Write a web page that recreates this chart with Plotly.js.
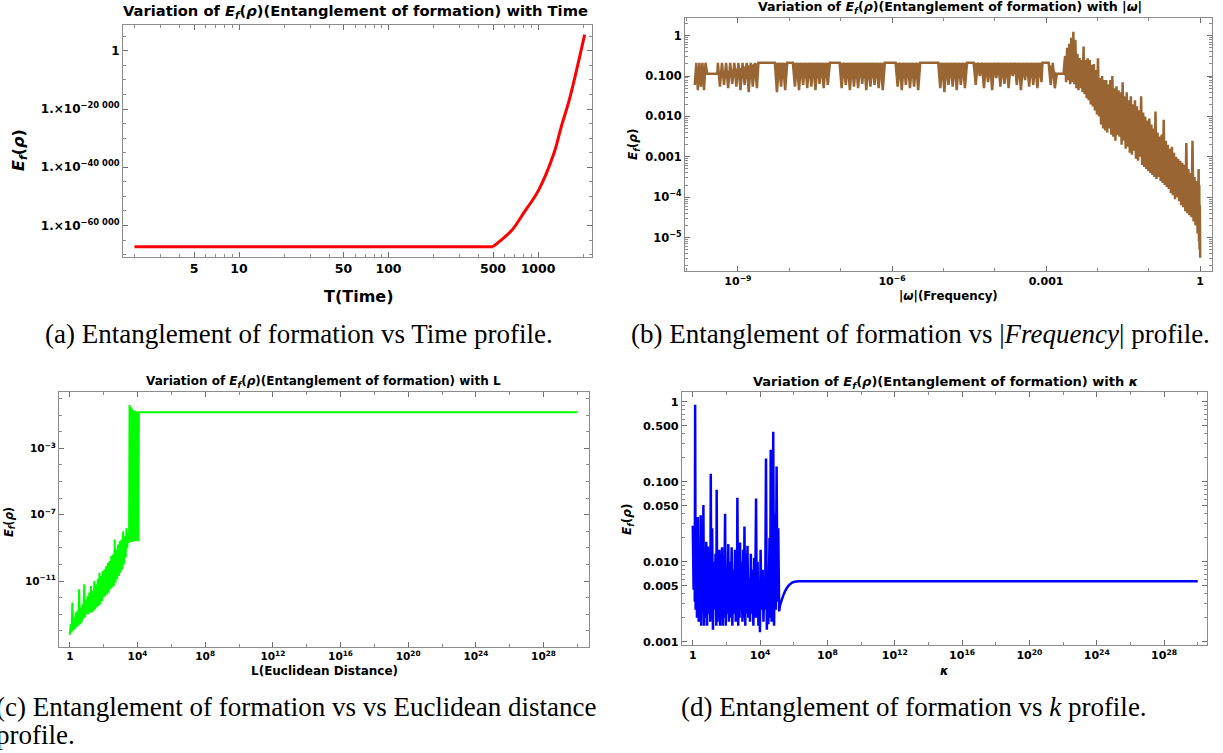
<!DOCTYPE html>
<html><head><meta charset="utf-8">
<script src="https://cdn.plot.ly/plotly-3.0.1.min.js"></script>
<style>html,body{margin:0;padding:0;background:#fff;}#chart{width:1223px;height:753px;}</style>
</head><body><div id="chart"></div>
<script>
// ---------- (a) E_f vs time : y values are log10(E_f) ----------
const aTime = [2, 500, 665, 795, 1007, 1276, 1429, 1618, 2051];
const aLogEf = [-67241, -67241, -61724, -55966, -47931, -35276, -26103, -16897, 5517];
const aXTicks = [5, 10, 50, 100, 500, 1000];
const aYTicks = [0, -20000, -40000, -60000];
const aYTickText = ['1', '1.×10<sup>−20 000</sup>', '1.×10<sup>−40 000</sup>', '1.×10<sup>−60 000</sup>'];

// ---------- (b) E_f vs |omega| : log10 values ----------
const bFlatLogW = [-9.84,-9.81,-9.78,-9.75,-9.72,-9.69,-9.66,-9.63,-9.60,-9.40,
 -9.39,-9.35,-9.31,-9.27,-9.23,-9.19,-9.15,-9.11,-9.07,-9.03,-8.99,-8.95,-8.91,-8.87,-8.83,-8.79,-8.75,-8.71,-8.67,-8.63,-8.60,
 -8.28,-8.24,-8.20,-8.16,-8.12,-8.08,-8.04,
 -7.93,-7.89,-7.85,-7.81,-7.77,-7.73,-7.69,-7.65,-7.61,-7.57,-7.53,-7.49,-7.45,-7.41,-7.37,-7.33,-7.29,-7.25,-7.21,
 -7.02,-6.98,-6.94,-6.90,-6.86,-6.82,-6.78,-6.74,-6.70,-6.66,-6.62,-6.58,-6.54,-6.50,-6.46,-6.42,-6.38,-6.34,-6.30,-6.26,-6.22,-6.18,-6.14,
 -5.93,-5.89,-5.85,-5.81,-5.77,-5.73,-5.69,-5.65,-5.61,-5.57,-5.53,-5.49,-5.45,
 -5.10,-5.06,-5.02,-4.98,-4.94,-4.90,-4.86,-4.82,-4.78,-4.74,-4.70,-4.66,-4.62,-4.58,-4.54,
 -4.41,-4.37,-4.33,-4.29,-4.25,-4.21,-4.17,-4.13,-4.09,-4.05,-4.01,-3.97,-3.93,-3.89,-3.85,-3.81,-3.77,-3.73,-3.69,-3.65,-3.61,-3.57,-3.53,-3.49,-3.45,-3.41,-3.37,-3.33,-3.29,-3.25,-3.21,-3.17,-3.13,-3.09,-3.07,
 -2.95,-2.91,-2.87,-2.83,-2.79,-2.66];
const bFlatLogEf = [-1.22,-0.67,-1.35,-0.67,-1.26,-0.67,-1.35,-0.67,-0.94,-0.94,
 -0.67,-1.26,-0.67,-1.22,-0.67,-1.3,-0.67,-1.19,-0.67,-1.26,-0.67,-1.35,-0.67,-1.22,-0.67,-1.4,-0.67,-1.26,-0.67,-1.3,-0.67,
 -0.67,-1.4,-0.67,-1.26,-0.67,-1.35,-0.67,
 -0.67,-1.26,-0.67,-1.35,-0.67,-1.22,-0.67,-1.3,-0.67,-1.26,-0.67,-1.35,-0.67,-1.19,-0.67,-1.3,-0.67,-1.22,-0.67,
 -0.67,-1.3,-0.67,-1.22,-0.67,-1.35,-0.67,-1.26,-0.67,-1.3,-0.67,-1.19,-0.67,-1.35,-0.67,-1.26,-0.67,-1.22,-0.67,-1.3,-0.67,-1.35,-0.67,
 -0.67,-1.26,-0.67,-1.35,-0.67,-1.22,-0.67,-1.3,-0.67,-1.26,-0.67,-1.35,-0.67,
 -0.67,-1.3,-0.67,-1.4,-0.67,-1.22,-0.67,-1.26,-0.67,-1.35,-0.67,-1.22,-0.67,-1.3,-0.67,
 -0.67,-1.22,-0.67,-1.0,-0.67,-1.3,-0.67,-1.15,-0.67,-1.35,-0.67,-1.05,-0.67,-1.26,-0.67,-1.19,-0.67,-1.3,-0.67,-1.0,-0.67,-1.22,-0.67,-1.35,-0.67,-1.1,-0.67,-1.26,-0.67,-1.22,-0.67,-1.3,-0.67,-1.15,-0.67,
 -0.67,-1.22,-0.67,-1.3,-0.94,-0.94];
const bDecayLogW = [-2.63,-2.61,-2.59,-2.57,-2.55,-2.53,-2.51,-2.49,-2.47,-2.45,-2.43,-2.41,-2.39,-2.37,-2.35,-2.33,-2.31,-2.29,-2.27,-2.25,
 -2.23,-2.21,-2.19,-2.17,-2.15,-2.13,-2.11,-2.09,-2.07,-2.05,-2.03,-2.01,-1.99,-1.97,-1.95,-1.93,-1.91,-1.89,-1.87,-1.85,
 -1.83,-1.81,-1.79,-1.77,-1.75,-1.73,-1.71,-1.69,-1.67,-1.65,-1.63,-1.61,-1.59,-1.57,-1.55,-1.53,-1.51,-1.49,-1.47,-1.45,
 -1.43,-1.41,-1.39,-1.37,-1.35,-1.33,-1.31,-1.29,-1.27,-1.25,-1.23,-1.21,-1.19,-1.17,-1.15,-1.13,-1.11,-1.09,-1.07,-1.05,
 -1.03,-1.01,-0.99,-0.97,-0.95,-0.93,-0.91,-0.89,-0.87,-0.85,-0.83,-0.81,-0.79,-0.77,-0.75,-0.73,-0.71,-0.69,-0.67,-0.65,
 -0.63,-0.61,-0.59,-0.57,-0.55,-0.53,-0.51,-0.49,-0.47,-0.45,-0.43,-0.41,-0.39,-0.37,-0.35,-0.33,-0.31,-0.29,-0.27,-0.25,
 -0.23,-0.21,-0.19,-0.17,-0.15,-0.13,-0.11,-0.09,-0.07,-0.05,-0.03,-0.024,-0.018,-0.012,-0.006,0.0];
const bDecayLogEf = [-0.5,-1.15,-0.3,-1.1,-0.2,-1.2,-0.05,-1.15,0.1,-1.2,
 -0.1,-1.3,-0.45,-1.35,-0.55,-1.3,-0.6,-1.4,-0.27,-1.45,
 -0.6,-1.55,-0.56,-1.6,-0.6,-1.7,-0.72,-1.75,-0.7,-1.85,
 -0.85,-1.95,-0.56,-2.0,-1.05,-2.2,-1.0,-2.3,-1.1,-2.35,
 -1.1,-2.4,-1.2,-2.3,-1.1,-2.45,-1.0,-2.5,-1.3,-2.6,
 -1.25,-2.45,-1.35,-2.5,-1.4,-2.7,-1.15,-2.6,-1.5,-2.8,
 -1.4,-2.75,-1.6,-2.9,-1.5,-2.95,-1.7,-2.85,-1.6,-3.05,
 -1.75,-3.1,-1.85,-3.0,-1.5,-3.2,-1.9,-3.25,-2.0,-3.3,
 -2.1,-3.35,-2.05,-3.4,-2.2,-3.45,-2.3,-3.5,-1.88,-3.55,
 -2.4,-3.5,-2.5,-3.6,-2.45,-3.65,-2.08,-3.7,-2.6,-3.75,
 -2.7,-3.8,-2.8,-3.9,-2.75,-3.95,-2.9,-4.05,-3.0,-4.0,
 -3.05,-4.1,-3.1,-4.2,-3.15,-4.25,-3.2,-4.35,-2.66,-4.4,
 -3.3,-4.45,-3.4,-4.5,-2.6,-4.6,-3.5,-4.7,-3.6,-4.9,
 -3.3,-5.1,-3.7,-5.3,-4.2,-5.5];
const bXTicks = [1e-9, 1e-6, 1e-3, 1];
const bXTickText = ['10<sup>−9</sup>', '10<sup>−6</sup>', '0.001', '1'];
const bYTicks = [1, 0.1, 0.01, 0.001, 1e-4, 1e-5];
const bYTickText = ['1', '0.100', '0.010', '0.001', '10<sup>−4</sup>', '10<sup>−5</sup>'];

// ---------- (c) E_f vs L : log10 values ----------
const cLogL = [0.00,0.05,0.10,0.15,0.20,0.25,0.30,0.35,0.40,0.45,0.50,0.55,0.60,0.65,0.70,0.75,0.80,0.85,0.90,0.95,
 1.00,1.05,1.10,1.15,1.20,1.25,1.30,1.35,1.40,1.45,1.50,1.55,1.60,1.65,1.70,1.75,1.80,1.85,1.90,1.95,
 2.00,2.05,2.10,2.15,2.20,2.25,2.30,2.35,2.40,2.45,2.50,2.55,2.60,2.65,2.70,2.75,2.80,2.85,2.90,2.95,
 3.00,3.05,3.10,3.15,3.20,3.25,3.30,3.35,3.40,3.45,3.50,
 3.53,3.57,3.60,3.64,3.67,3.71,3.74,3.78,3.81,3.85,3.88,3.92,3.95,3.99,4.02,4.06,4.08,30.0];
const cLogEf = [-14.25,-13.6,-14.1,-12.3,-14.0,-13.2,-13.9,-12.9,-13.8,-12.8,
 -13.7,-11.5,-13.6,-12.6,-13.5,-12.4,-13.3,-11.2,-13.2,-12.1,
 -13.0,-11.9,-13.0,-11.7,-12.9,-11.3,-12.9,-11.6,-12.8,-11.0,
 -12.7,-11.2,-12.6,-10.9,-12.5,-10.5,-12.4,-10.7,-12.2,-10.4,
 -12.0,-10.3,-11.9,-10.1,-11.8,-9.9,-11.7,-9.8,-11.5,-9.5,
 -11.4,-9.4,-11.3,-8.5,-11.1,-9.1,-10.9,-8.8,-10.7,-8.6,
 -10.5,-8.5,-10.3,-8.0,-10.0,-8.3,-9.6,-7.8,-9.0,-8.1,-8.7,
 -0.39,-8.65,-0.5,-8.6,-0.6,-8.65,-0.7,-8.6,-0.75,-8.6,
 -0.72,-8.6,-0.8,-8.55,-0.78,-8.6,-0.83,-0.83];
const cXTicks = [1, 1e4, 1e8, 1e12, 1e16, 1e20, 1e24, 1e28];
const cXTickText = ['1', '10<sup>4</sup>', '10<sup>8</sup>', '10<sup>12</sup>', '10<sup>16</sup>', '10<sup>20</sup>', '10<sup>24</sup>', '10<sup>28</sup>'];
const cYTicks = [1e-3, 1e-7, 1e-11];
const cYTickText = ['10<sup>−3</sup>', '10<sup>−7</sup>', '10<sup>−11</sup>'];

// ---------- (d) E_f vs kappa : log10 values ----------
const dLogK = [0.00,0.05,0.10,0.12,0.14,0.17,0.20,0.25,0.30,0.35,
 0.40,0.45,0.47,0.50,0.55,0.60,0.63,0.67,0.70,0.75,
 0.80,0.85,0.90,0.95,1.00,1.04,1.07,1.10,1.15,1.20,
 1.25,1.30,1.35,1.40,1.42,1.46,1.50,1.55,1.58,1.62,
 1.66,1.70,1.74,1.78,1.82,1.86,1.92,1.96,2.00,2.05,
 2.11,2.15,2.20,2.25,2.31,2.35,2.40,2.45,2.51,2.55,
 2.60,2.62,2.65,2.70,2.75,2.78,2.81,2.86,2.90,2.95,
 3.00,3.04,3.07,3.12,3.16,3.20,3.25,3.30,3.35,3.40,
 3.45,3.50,3.55,3.60,3.65,3.70,3.76,3.80,3.85,3.90,
 3.95,3.99,4.03,4.08,4.15,4.20,4.25,4.30,4.35,4.40,
 4.45,4.49,4.56,4.60,4.63,4.68,4.72,4.75,4.78,4.83,
 4.88,4.93,4.98,5.03,5.08,5.13,
 5.18,5.28,5.38,5.48,5.58,5.68,5.78,5.90,6.05,6.30,30.0];
const dLogEf = [-1.55,-2.35,-1.6,-2.5,-0.04,-2.6,-1.5,-2.7,-1.44,-2.75,
 -2.0,-2.65,-1.42,-2.8,-1.9,-2.65,-1.29,-2.8,-2.1,-2.7,
 -1.75,-2.8,-1.81,-2.65,-2.2,-2.75,-0.9,-2.7,-1.58,-2.85,
 -2.0,-2.6,-1.9,-2.8,-1.1,-2.75,-2.2,-2.7,-1.85,-2.8,
 -1.9,-2.6,-1.82,-2.8,-2.1,-2.7,-1.4,-2.8,-2.2,-2.65,
 -1.78,-2.75,-2.0,-2.7,-1.82,-2.8,-2.1,-2.65,-1.85,-2.75,
 -2.2,-2.6,-1.2,-2.8,-1.9,-2.7,-1.76,-2.6,-2.0,-2.75,
 -1.85,-2.7,-1.56,-2.8,-1.9,-2.65,-1.8,-2.7,-2.2,-2.75,
 -1.9,-2.65,-2.1,-2.8,-1.95,-2.7,-1.21,-2.7,-2.0,-2.8,
 -2.3,-2.88,-1.85,-2.6,-2.1,-2.75,-2.2,-2.6,-0.71,-2.85,
 -2.2,-2.78,-1.7,-2.7,-0.6,-2.75,-1.9,-2.5,-0.375,-2.8,
 -1.4,-2.6,-0.81,-2.5,-1.58,-2.62,
 -2.55,-2.48,-2.42,-2.37,-2.33,-2.3,-2.28,-2.26,-2.25,-2.245,-2.245];
const dYTicks = [1, 0.5, 0.1, 0.05, 0.01, 0.005, 0.001];
const dYTickText = ['1', '0.500', '0.100', '0.050', '0.010', '0.005', '0.001'];

// ---------- text ----------
const titleA = '<b>Variation of <i>E<sub>f</sub></i>(<i>ρ</i>)(Entanglement of formation) with Time</b>';
const titleB = '<b>Variation of <i>E<sub>f</sub></i>(<i>ρ</i>)(Entanglement of formation) with |<i>ω</i>|</b>';
const titleC = '<b>Variation of <i>E<sub>f</sub></i>(<i>ρ</i>)(Entanglement of formation) with L</b>';
const titleD = '<b>Variation of <i>E<sub>f</sub></i>(<i>ρ</i>)(Entanglement of formation) with <i>κ</i></b>';
const yLabel = '<b><i>E<sub>f</sub></i>(<i>ρ</i>)</b>';
const xLabelA = '<b>T(Time)</b>';
const xLabelB = '<b>|<i>ω</i>|(Frequency)</b>';
const xLabelC = '<b>L(Euclidean Distance)</b>';
const xLabelD = '<b><i>κ</i></b>';
const capA = '(a) Entanglement of formation vs Time profile.';
const capB = '(b) Entanglement of formation vs |<i>Frequency</i>| profile.';
const capC1 = '(c) Entanglement of formation vs vs Euclidean distance';
const capC2 = 'profile.';
const capD = '(d) Entanglement of formation vs <i>k</i> profile.';

// ---------- build ----------
const W = 1223, H = 753;
const px = p => p / W, py = p => 1 - p / H;
const pow10 = a => a.map(v => (v === null ? null : Math.pow(10, v)));
const FONT = 'DejaVu Sans';

// split the flat band of (b) into its solid blocks (a null wherever the sampled
// abscissae jump across a gap), so each block can be filled underneath the line
function splitBlocks(xs, ys, maxStep) {
  const ox = [], oy = [];
  for (let i = 0; i < xs.length; i++) {
    if (i > 0 && xs[i] - xs[i - 1] > maxStep) { ox.push(null); oy.push(null); }
    ox.push(xs[i]); oy.push(ys[i]);
  }
  return [ox, oy];
}
const [bBlockW, bBlockEf] = splitBlocks(bFlatLogW, bFlatLogEf, 0.08);

function minorLog(lo, hi, skip) {
  const out = [];
  for (let e = Math.floor(lo); e <= Math.ceil(hi); e++) {
    for (let m = 1; m <= 9; m++) {
      const v = m * Math.pow(10, e);
      const lv = Math.log10(v);
      if (lv < lo || lv > hi) continue;
      if (skip.some(s => Math.abs(Math.log10(s) - lv) < 1e-6)) continue;
      out.push(v);
    }
  }
  return out;
}
function decades(lo, hi, step, skip) {
  const out = [];
  for (let e = lo; e <= hi; e += step) {
    if (skip.some(s => Math.abs(Math.log10(s) - e) < 1e-6)) continue;
    out.push(Math.pow(10, e));
  }
  return out;
}

function ax(o, fontSize, minorVals) {
  return Object.assign({
    showline: true, linecolor: '#8c8c8c', linewidth: 1, mirror: 'allticks',
    ticks: 'inside', ticklen: 5, tickwidth: 1, tickcolor: '#6e6e6e',
    showgrid: false, zeroline: false, automargin: false, fixedrange: true,
    tickmode: 'array',
    tickfont: {family: FONT, size: fontSize, color: '#000', weight: 'bold'},
    minor: {tickmode: 'array', tickvals: minorVals, ticks: 'inside', ticklen: 3, tickwidth: 1, tickcolor: '#8c8c8c', showgrid: false}
  }, o);
}

const aMinorY = [];
for (let v = -70000; v <= 5000; v += 5000) if (v % 20000 !== 0) aMinorY.push(v);

const layout = {
  width: W, height: H, margin: {l: 0, r: 0, t: 0, b: 0, pad: 0},
  paper_bgcolor: '#fff', plot_bgcolor: '#fff', showlegend: false,
  xaxis: ax({domain: [px(123), px(592)], anchor: 'y', type: 'log', range: [0.224, 3.361],
    tickvals: aXTicks, ticktext: aXTicks.map(String)}, 12.5, minorLog(0.224, 3.361, aXTicks)),
  yaxis: ax({domain: [py(257), py(25)], anchor: 'x', type: 'linear', range: [-70790, 8832],
    tickvals: aYTicks, ticktext: aYTickText}, 12, aMinorY),
  xaxis2: ax({domain: [px(685), px(1212)], anchor: 'y2', type: 'log', range: [-10.03, 0.23],
    tickvals: bXTicks, ticktext: bXTickText}, 11, decades(-10, 0, 1, bXTicks)),
  yaxis2: ax({domain: [py(271), py(18)], anchor: 'x2', type: 'log', range: [-5.83, 0.44],
    tickvals: bYTicks, ticktext: bYTickText}, 11.5, minorLog(-5.83, 0.44, bYTicks)),
  xaxis3: ax({domain: [px(59), px(588.5)], anchor: 'y3', type: 'log', range: [-0.64, 30.66],
    tickvals: cXTicks, ticktext: cXTickText}, 10.5, decades(2, 30, 4, [])),
  yaxis3: ax({domain: [py(646.7), py(391.7)], anchor: 'x3', type: 'log', range: [-14.96, 0.41],
    tickvals: cYTicks, ticktext: cYTickText}, 10.5, decades(-14, 0, 1, cYTicks)),
  xaxis4: ax({domain: [px(682), px(1207)], anchor: 'y4', type: 'log', range: [-0.64, 30.55],
    tickvals: cXTicks, ticktext: cXTickText}, 11, decades(2, 30, 4, [])),
  yaxis4: ax({domain: [py(645), py(392.3)], anchor: 'x4', type: 'log', range: [-3.04, 0.117],
    tickvals: dYTicks, ticktext: dYTickText}, 11.3, minorLog(-3.04, 0.117, dYTicks)),
  annotations: []
};

function ann(text, x, y, size, extra) {
  layout.annotations.push(Object.assign({
    text, xref: 'paper', yref: 'paper', x: px(x), y: py(y), xanchor: 'center', yanchor: 'middle',
    showarrow: false, font: {family: FONT, size, color: '#000'}
  }, extra || {}));
}
ann(titleA, 355, 12, 14.7);
ann(titleB, 950, 8, 12.6);
ann(titleC, 323.5, 382, 12);
ann(titleD, 945, 382, 13);
ann(xLabelA, 358, 296, 16);
ann(yLabel, 19, 150, 16, {textangle: -90});
ann(xLabelB, 948, 296, 11.8);
ann(yLabel, 634, 145, 12, {textangle: -90});
ann(xLabelC, 324, 671, 12);
ann(yLabel, 9, 522, 11.5, {textangle: -90});
ann(xLabelD, 944, 671, 12);
ann(yLabel, 628, 520, 12, {textangle: -90});
const CAP = {family: 'Liberation Serif', size: 27, color: '#000'};
ann(capA, 299, 334, 27, {font: CAP});
ann(capB, 920, 334, 27, {font: CAP});
ann(capC1, -6, 707, 27, {font: CAP, xanchor: 'left'});
ann(capC2, -6, 735, 27, {font: CAP, xanchor: 'left'});
ann(capD, 914, 707, 27, {font: CAP});

const BROWN = '#996633';
const traces = [
  {type: 'scatter', mode: 'lines', x: aTime.slice(0, 2), y: aLogEf.slice(0, 2), xaxis: 'x', yaxis: 'y',
   line: {color: '#ff0000', width: 3, simplify: false}, hoverinfo: 'skip'},
  {type: 'scatter', mode: 'lines', x: aTime.slice(1), y: aLogEf.slice(1), xaxis: 'x', yaxis: 'y',
   line: {color: '#ff0000', width: 3, shape: 'spline', smoothing: 1, simplify: false}, hoverinfo: 'skip'},
  {type: 'scatter', mode: 'lines', x: pow10(bBlockW), y: pow10(bBlockEf), xaxis: 'x2', yaxis: 'y2',
   connectgaps: false, fill: 'toself', fillcolor: BROWN, line: {width: 0, color: BROWN, simplify: false}, hoverinfo: 'skip'},
  {type: 'scatter', mode: 'lines', x: pow10(bFlatLogW.concat(bDecayLogW)), y: pow10(bFlatLogEf.concat(bDecayLogEf)),
   xaxis: 'x2', yaxis: 'y2', line: {color: BROWN, width: 2.5, simplify: false}, hoverinfo: 'skip'},
  {type: 'scatter', mode: 'lines', x: pow10(cLogL), y: pow10(cLogEf), xaxis: 'x3', yaxis: 'y3',
   line: {color: '#00ff00', width: 2, simplify: false}, hoverinfo: 'skip'},
  {type: 'scatter', mode: 'lines', x: pow10(dLogK), y: pow10(dLogEf), xaxis: 'x4', yaxis: 'y4',
   line: {color: '#0000ff', width: 2.5, simplify: false}, hoverinfo: 'skip'}
];

Plotly.newPlot('chart', traces, layout, {staticPlot: true, displayModeBar: false});
</script>
</body></html>
